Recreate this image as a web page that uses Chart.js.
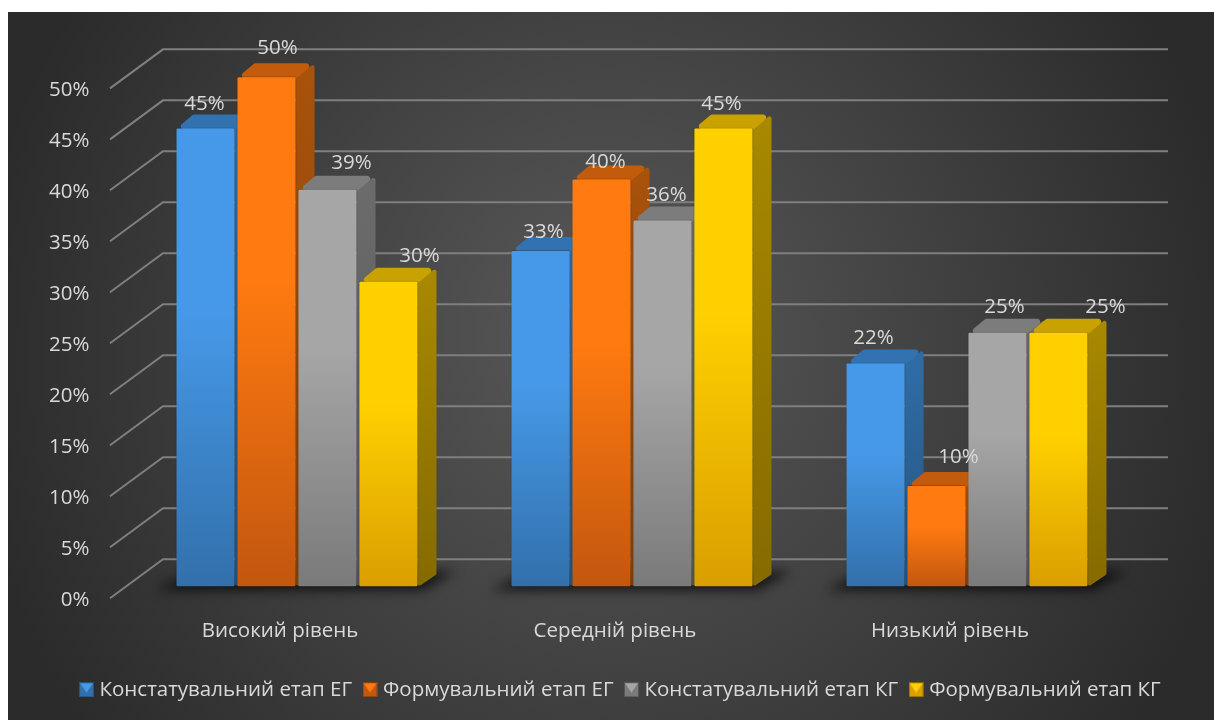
<!DOCTYPE html>
<html>
<head>
<meta charset="utf-8">
<style>
    html, body { margin: 0; padding: 0; background: #fff; }
    canvas { display: block; }
</style>
<script src="https://cdn.jsdelivr.net/npm/chart.js@4"></script>
</head>
<body>
<canvas id="chart" width="1214" height="720"></canvas>
<script>
//// data
const categories = ["Високий рівень", "Середній рівень", "Низький рівень"]
const seriesNames = ["Констатувальний етап ЕГ", "Формувальний етап ЕГ", "Констатувальний етап КГ", "Формувальний етап КГ"]
const konstatEG = [45, 33, 22]
const formEG = [50, 40, 10]
const konstatKG = [39, 36, 25]
const formKG = [30, 45, 25]
const tickValues = [0, 5, 10, 15, 20, 25, 30, 35, 40, 45, 50]

//// look
const FONT = "'Open Sans', sans-serif"
const FONT_SIZE = 20.5
const TEXT = "#d9d9d9"
const DEPTH_X = 18
const DEPTH_Y = -13
const palette = [
    { top: "#4699e8", bottom: "#3270ab", lid: "#3272b0", side: "#2f6ca6", sideDark: "#25547f" },
    { top: "#ff7a10", bottom: "#c2570f", lid: "#c25c0c", side: "#a8520b", sideDark: "#85420a" },
    { top: "#a6a6a6", bottom: "#7a7a7a", lid: "#7c7c7c", side: "#6b6b6b", sideDark: "#565656" },
    { top: "#ffd000", bottom: "#d99e00", lid: "#c9a200", side: "#a88800", sideDark: "#856a00" }
]
// data labels are not centred on the bars in the picture: [dx, gap above the bar]
const labelNudge = [
    [[-1, 23.5], [3, 17.5], [-2, 24.5]],
    [[11, 28.5], [4, 16.5], [22, 27.5]],
    [[24, 25.5], [4, 24.5], [7, 24.5]],
    [[31, 24.5], [-2, 23.5], [47, 24.5]]
]

function roundedPoly(ctx, pts, r) {
    ctx.beginPath()
    const n = pts.length
    ctx.moveTo((pts[0][0] + pts[n - 1][0]) / 2, (pts[0][1] + pts[n - 1][1]) / 2)
    for (let i = 0; i < n; i++) {
        const a = pts[i]
        const b = pts[(i + 1) % n]
        ctx.arcTo(a[0], a[1], b[0], b[1], r)
    }
    ctx.closePath()
}

function frontGradient(context) {
    const c = palette[context.datasetIndex]
    const chart = context.chart
    const value = context.raw
    if (value === undefined) return c.top
    const y = chart.scales.y
    const g = chart.ctx.createLinearGradient(0, y.getPixelForValue(value), 0, y.getPixelForValue(0))
    g.addColorStop(0, c.top)
    g.addColorStop(0.4, c.top)
    g.addColorStop(1, c.bottom)
    return g
}

function legendIcon(c) {
    const s = 15
    const cv = document.createElement("canvas")
    cv.width = s
    cv.height = s
    const x = cv.getContext("2d")
    x.fillStyle = c.sideDark
    x.fillRect(0, 0, s, s)
    x.fillStyle = c.bottom
    x.fillRect(1, 1, s - 2, s - 2)
    x.fillStyle = c.top
    x.beginPath()
    x.moveTo(1, 1)
    x.lineTo(s - 1, 1)
    x.lineTo(s / 2, s / 2 + 3)
    x.closePath()
    x.fill()
    return cv
}

//// plugins
const backdrop = {
    id: "backdrop",
    // the legend is centred on the whole picture, not on the plot
    afterLayout(chart) {
        chart.legend.left += 55
        chart.legend.right += 55
        chart.legend.top -= 1
        chart.legend.bottom -= 1
    },
    beforeDraw(chart) {
        const ctx = chart.ctx
        const g = ctx.createRadialGradient(607, 330, 30, 607, 360, 640)
        g.addColorStop(0, "#575757")
        g.addColorStop(1, "#2b2b2b")
        ctx.fillStyle = g
        ctx.fillRect(8, 12, 1206, 708)
    }
}

const walls = {
    id: "walls",
    beforeDatasetsDraw(chart) {
        const ctx = chart.ctx
        const labels = chart.scales.yLabels
        const base = chart.scales.y.getPixelForValue(0)
        ctx.save()
        ctx.strokeStyle = "#7f7f7f"
        ctx.lineWidth = 2
        labels.ticks.forEach(t => {
            const y = labels.getPixelForValue(t.value) - 2
            ctx.beginPath()
            ctx.moveTo(110, y)
            ctx.lineTo(163, y - 39)
            ctx.lineTo(1168, y - 39)
            ctx.stroke()
        })
        // soft shadow on the floor behind each group
        const metas = chart.data.datasets.map((_, d) => chart.getDatasetMeta(d))
        categories.forEach((_, i) => {
            const bars = metas.map(m => m.data[i])
            const left = Math.min(...bars.map(b => b.x - b.width / 2))
            const right = Math.max(...bars.map(b => b.x + b.width / 2))
            ctx.save()
            ctx.filter = "blur(6px)"
            ctx.fillStyle = "rgba(0,0,0,0.7)"
            ctx.beginPath()
            ctx.moveTo(left - 20, base + 3)
            ctx.lineTo(right + 4, base + 3)
            ctx.lineTo(right + 38, base - 16)
            ctx.lineTo(left + 20, base - 16)
            ctx.closePath()
            ctx.fill()
            ctx.restore()
        })
        // sides and lids left to right, the fronts are then drawn over them by the library
        metas.forEach((meta, d) => {
            const c = palette[d]
            meta.data.forEach(bar => {
                const l = bar.x - bar.width / 2
                const r = bar.x + bar.width / 2
                const t = bar.y
                const side = ctx.createLinearGradient(0, t, 0, base)
                side.addColorStop(0, c.side)
                side.addColorStop(1, c.sideDark)
                ctx.fillStyle = side
                roundedPoly(ctx, [[r - 1, t + 1], [r + DEPTH_X, t + DEPTH_Y], [r + DEPTH_X, base + DEPTH_Y], [r - 1, base]], 2)
                ctx.fill()
                ctx.fillStyle = c.lid
                roundedPoly(ctx, [[l, t + 2], [l + DEPTH_X, t + DEPTH_Y], [r + DEPTH_X, t + DEPTH_Y], [r, t + 2]], 3)
                ctx.fill()
            })
        })
        ctx.restore()
    }
}

const valueLabels = {
    id: "valueLabels",
    afterDatasetsDraw(chart) {
        const ctx = chart.ctx
        ctx.save()
        ctx.font = FONT_SIZE + "px " + FONT
        ctx.fillStyle = TEXT
        ctx.textAlign = "center"
        ctx.textBaseline = "middle"
        chart.data.datasets.forEach((ds, d) => {
            chart.getDatasetMeta(d).data.forEach((bar, i) => {
                const nudge = labelNudge[d][i]
                ctx.fillText(ds.data[i] + "%", bar.x + nudge[0], bar.y - nudge[1])
            })
        })
        ctx.restore()
    }
}

//// chart
const allSeries = [konstatEG, formEG, konstatKG, formKG]

new Chart(document.querySelector("#chart"), {
    type: "bar",
    data: {
        labels: categories,
        datasets: allSeries.map((values, i) => ({
            label: seriesNames[i],
            data: values,
            backgroundColor: frontGradient,
            borderColor: "rgba(0,0,0,0.18)",
            borderWidth: 1,
            borderRadius: 2,
            borderSkipped: false,
            yAxisID: "y",
            categoryPercentage: 0.728,
            barPercentage: 0.985
        }))
    },
    options: {
        responsive: false,
        animation: false,
        layout: { padding: { left: 0, right: 79.5, top: 48.3, bottom: 9 } },
        plugins: {
            title: { display: false },
            tooltip: { enabled: false },
            legend: {
                display: true,
                position: "bottom",
                labels: {
                    color: TEXT,
                    font: { family: FONT, size: FONT_SIZE },
                    usePointStyle: true,
                    pointStyleWidth: 5.5,
                    padding: 15.2,
                    generateLabels(chart) {
                        return seriesNames.map((name, i) => ({
                            text: name,
                            datasetIndex: i,
                            fontColor: TEXT,
                            pointStyle: legendIcon(palette[i]),
                            fillStyle: palette[i].top,
                            lineWidth: 0
                        }))
                    }
                }
            }
        },
        scales: {
            x: {
                grid: { display: false },
                border: { display: false },
                ticks: {
                    color: TEXT,
                    font: { family: FONT, size: FONT_SIZE },
                    padding: 11,
                    labelOffset: -17
                },
                afterFit(scale) { scale.height = 65 }
            },
            // bars stand on this one; its range keeps 0 and 50 where the bars end in the picture
            y: {
                display: false,
                min: -1.272,
                max: 52.74
            },
            // the printed scale sits further forward than the bars
            yLabels: {
                position: "left",
                min: 0,
                max: 54.12,
                grid: { display: false },
                border: { display: false },
                ticks: {
                    stepSize: 5,
                    autoSkip: false,
                    includeBounds: false,
                    color: TEXT,
                    font: { family: FONT, size: FONT_SIZE },
                    padding: 32,
                    callback: v => tickValues.includes(v) ? v + "%" : ""
                },
                afterFit(scale) { scale.width = 129.5 }
            }
        }
    },
    plugins: [backdrop, walls, valueLabels]
})
</script>
</body>
</html>
